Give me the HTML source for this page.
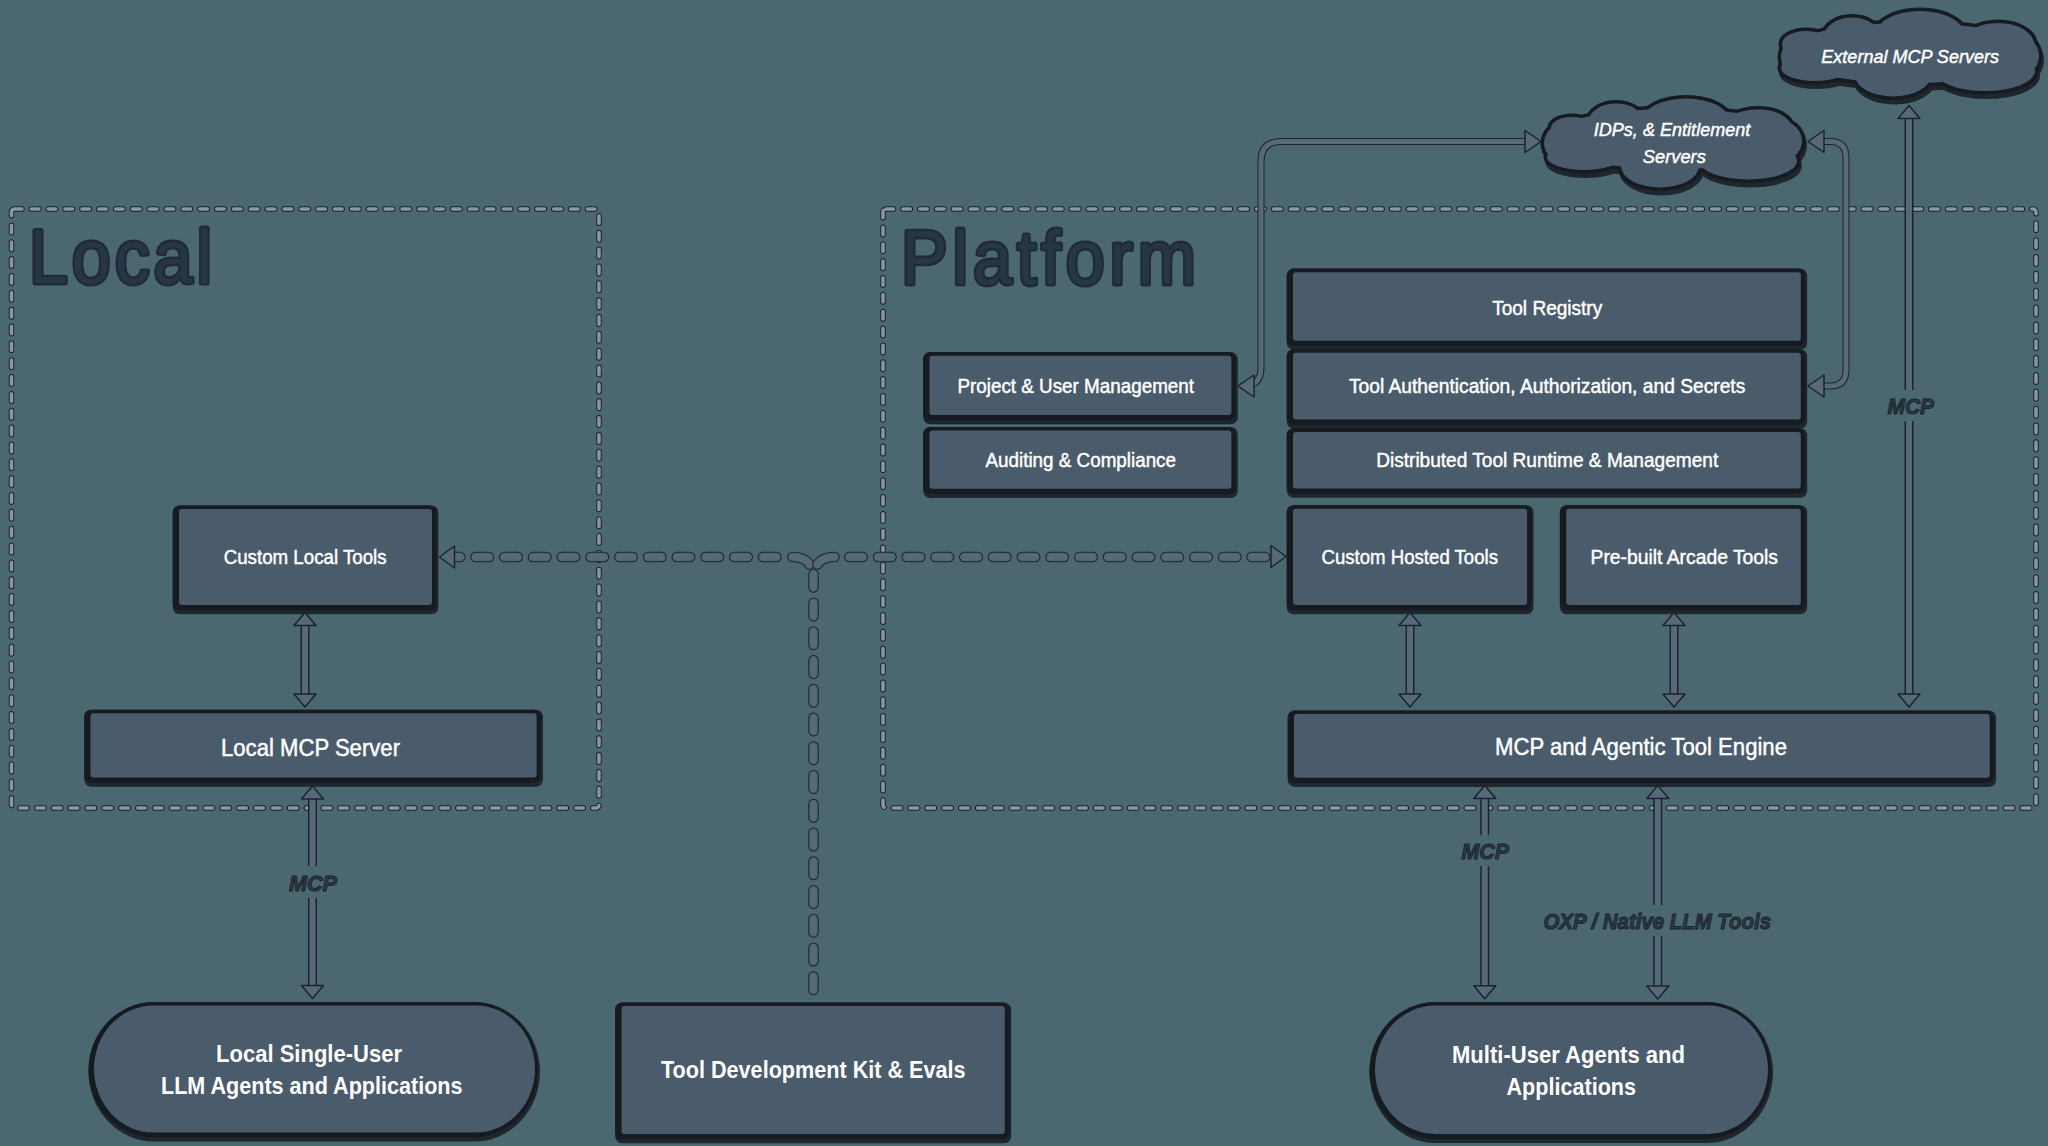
<!DOCTYPE html><html><head><meta charset="utf-8"><title>Arcade architecture</title>
<style>html,body{margin:0;padding:0;background:#4b6870;overflow:hidden}svg{display:block}text{font-family:"Liberation Sans",sans-serif}</style></head><body>
<svg width="2048" height="1146" viewBox="0 0 2048 1146">
<rect width="2048" height="1146" fill="#4b6870"/>
<rect x="11.5" y="209" width="587.5" height="599" rx="3" fill="none" stroke="#1b242c" stroke-width="5.5" stroke-dasharray="7.5 9.35" stroke-linecap="round"/>
<rect x="11.5" y="209" width="587.5" height="599" rx="3" fill="none" stroke="#8a96a3" stroke-width="3.5" stroke-dasharray="7.5 9.35" stroke-linecap="round"/>
<rect x="883" y="209" width="1153" height="599" rx="3" fill="none" stroke="#1b242c" stroke-width="5.5" stroke-dasharray="7.5 9.35" stroke-linecap="round"/>
<rect x="883" y="209" width="1153" height="599" rx="3" fill="none" stroke="#8a96a3" stroke-width="3.5" stroke-dasharray="7.5 9.35" stroke-linecap="round"/>
<text transform="scale(0.92,1)" x="31.52" y="283.2" font-size="76" fill="#273646" stroke="#1f2b37" stroke-width="5" stroke-linejoin="round" paint-order="stroke" textLength="198.91" lengthAdjust="spacing">Local</text>
<text transform="scale(0.92,1)" x="979.35" y="283.7" font-size="76" fill="#273646" stroke="#1f2b37" stroke-width="5" stroke-linejoin="round" paint-order="stroke" textLength="320.65" lengthAdjust="spacing">Platform</text>
<path d="M1527 141.5 L1281 141.5 Q1261 141.5 1261 161.5 L1261 368 Q1261 386 1243 386 L1250 386" fill="none" stroke="#1b242c" stroke-width="7" stroke-linejoin="round"/>
<path d="M1527 141.5 L1281 141.5 Q1261 141.5 1261 161.5 L1261 368 Q1261 386 1243 386 L1250 386" fill="none" stroke="#56687a" stroke-width="5" stroke-linejoin="round"/>
<polygon points="1541,141.5 1525,130.5 1525,152.5" fill="#56687a" stroke="#1b242c" stroke-width="1.5" stroke-linejoin="round"/>
<polygon points="1238,386 1254,375.0 1254,397.0" fill="#56687a" stroke="#1b242c" stroke-width="1.5" stroke-linejoin="round"/>
<path d="M1822 141.5 L1830 141.5 Q1846 141.5 1846 157.5 L1846 370 Q1846 386 1830 386 L1822 386" fill="none" stroke="#1b242c" stroke-width="7" stroke-linejoin="round"/>
<path d="M1822 141.5 L1830 141.5 Q1846 141.5 1846 157.5 L1846 370 Q1846 386 1830 386 L1822 386" fill="none" stroke="#56687a" stroke-width="5" stroke-linejoin="round"/>
<polygon points="1808,141.5 1824,130.5 1824,152.5" fill="#56687a" stroke="#1b242c" stroke-width="1.5" stroke-linejoin="round"/>
<polygon points="1808,386 1824,375.0 1824,397.0" fill="#56687a" stroke="#1b242c" stroke-width="1.5" stroke-linejoin="round"/>
<path d="M452 557 L779 557" fill="none" stroke="#1b242c" stroke-width="10.5" stroke-linecap="round" stroke-dasharray="13.5 15.25" stroke-dashoffset="5.25"/>
<path d="M452 557 L779 557" fill="none" stroke="#4b6870" stroke-width="8.5" stroke-linecap="round" stroke-dasharray="13.5 15.25" stroke-dashoffset="5.25"/>
<path d="M452 557 L779 557" fill="none" stroke="#56687a" stroke-width="6" stroke-linecap="round" stroke-dasharray="13.5 15.25" stroke-dashoffset="5.25"/>
<path d="M840 557 L1272 557" fill="none" stroke="#1b242c" stroke-width="10.5" stroke-linecap="round" stroke-dasharray="13.5 15.25" stroke-dashoffset="19.5"/>
<path d="M840 557 L1272 557" fill="none" stroke="#4b6870" stroke-width="8.5" stroke-linecap="round" stroke-dasharray="13.5 15.25" stroke-dashoffset="19.5"/>
<path d="M840 557 L1272 557" fill="none" stroke="#56687a" stroke-width="6" stroke-linecap="round" stroke-dasharray="13.5 15.25" stroke-dashoffset="19.5"/>
<path d="M813.5 569.5 L813.5 994" fill="none" stroke="#1b242c" stroke-width="10.5" stroke-linecap="round" stroke-dasharray="13.5 15.25" stroke-dashoffset="24.25"/>
<path d="M813.5 569.5 L813.5 994" fill="none" stroke="#4b6870" stroke-width="8.5" stroke-linecap="round" stroke-dasharray="13.5 15.25" stroke-dashoffset="24.25"/>
<path d="M813.5 569.5 L813.5 994" fill="none" stroke="#56687a" stroke-width="6" stroke-linecap="round" stroke-dasharray="13.5 15.25" stroke-dashoffset="24.25"/>
<path d="M792.5 557 Q805 557 809.5 564.5" fill="none" stroke="#1b242c" stroke-width="10.5" stroke-linecap="round" stroke-dasharray="none" stroke-dashoffset="0"/>
<path d="M792.5 557 Q805 557 809.5 564.5" fill="none" stroke="#4b6870" stroke-width="8.5" stroke-linecap="round" stroke-dasharray="none" stroke-dashoffset="0"/>
<path d="M792.5 557 Q805 557 809.5 564.5" fill="none" stroke="#56687a" stroke-width="6" stroke-linecap="round" stroke-dasharray="none" stroke-dashoffset="0"/>
<path d="M834.5 557 Q822 557 817.5 564.5" fill="none" stroke="#1b242c" stroke-width="10.5" stroke-linecap="round" stroke-dasharray="none" stroke-dashoffset="0"/>
<path d="M834.5 557 Q822 557 817.5 564.5" fill="none" stroke="#4b6870" stroke-width="8.5" stroke-linecap="round" stroke-dasharray="none" stroke-dashoffset="0"/>
<path d="M834.5 557 Q822 557 817.5 564.5" fill="none" stroke="#56687a" stroke-width="6" stroke-linecap="round" stroke-dasharray="none" stroke-dashoffset="0"/>
<polygon points="439.5,557 454.5,546.0 454.5,568.0" fill="#56687a" stroke="#1b242c" stroke-width="1.5" stroke-linejoin="round"/>
<polygon points="1286,556.5 1271,545.5 1271,567.5" fill="#56687a" stroke="#1b242c" stroke-width="1.5" stroke-linejoin="round"/>
<rect x="172.7" y="505.4" width="265.7" height="108.8" rx="7" fill="#1e262e"/>
<rect x="172.7" y="505.4" width="263.7" height="104.8" rx="7" fill="#161b21"/>
<rect x="179" y="509" width="253" height="96" rx="3" fill="#4a5b6b"/>
<rect x="84.2" y="709.6999999999999" width="458.8" height="77.00000000000004" rx="7" fill="#1e262e"/>
<rect x="84.2" y="709.6999999999999" width="456.8" height="73.00000000000004" rx="7" fill="#161b21"/>
<rect x="90.5" y="713.3" width="446.1" height="64.20000000000005" rx="3" fill="#4a5b6b"/>
<rect x="923.2" y="352.09999999999997" width="314.6000000000001" height="72.20000000000003" rx="7" fill="#1e262e"/>
<rect x="923.2" y="352.09999999999997" width="312.6000000000001" height="68.20000000000003" rx="7" fill="#161b21"/>
<rect x="929.5" y="355.7" width="301.9000000000001" height="59.400000000000034" rx="3" fill="#4a5b6b"/>
<rect x="923.2" y="426.9" width="314.6000000000001" height="71.10000000000001" rx="7" fill="#1e262e"/>
<rect x="923.2" y="426.9" width="312.6000000000001" height="67.10000000000001" rx="7" fill="#161b21"/>
<rect x="929.5" y="430.5" width="301.9000000000001" height="58.30000000000001" rx="3" fill="#4a5b6b"/>
<rect x="1286.7" y="268.59999999999997" width="520.4999999999999" height="81.3" rx="7" fill="#1e262e"/>
<rect x="1286.7" y="268.59999999999997" width="518.4999999999999" height="77.3" rx="7" fill="#161b21"/>
<rect x="1293" y="272.2" width="507.79999999999995" height="68.5" rx="3" fill="#4a5b6b"/>
<rect x="1286.7" y="349.2" width="520.4999999999999" height="79.49999999999999" rx="7" fill="#1e262e"/>
<rect x="1286.7" y="349.2" width="518.4999999999999" height="75.49999999999999" rx="7" fill="#161b21"/>
<rect x="1293" y="352.8" width="507.79999999999995" height="66.69999999999999" rx="3" fill="#4a5b6b"/>
<rect x="1286.7" y="428.29999999999995" width="520.4999999999999" height="69.50000000000004" rx="7" fill="#1e262e"/>
<rect x="1286.7" y="428.29999999999995" width="518.4999999999999" height="65.50000000000004" rx="7" fill="#161b21"/>
<rect x="1293" y="431.9" width="507.79999999999995" height="56.700000000000045" rx="3" fill="#4a5b6b"/>
<rect x="1286.7" y="505.2" width="246.79999999999993" height="108.99999999999999" rx="7" fill="#1e262e"/>
<rect x="1286.7" y="505.2" width="244.79999999999993" height="104.99999999999999" rx="7" fill="#161b21"/>
<rect x="1293" y="508.8" width="234.0999999999999" height="96.19999999999999" rx="3" fill="#4a5b6b"/>
<rect x="1559.9" y="505.2" width="247.29999999999993" height="108.99999999999999" rx="7" fill="#1e262e"/>
<rect x="1559.9" y="505.2" width="245.29999999999993" height="104.99999999999999" rx="7" fill="#161b21"/>
<rect x="1566.2" y="508.8" width="234.5999999999999" height="96.19999999999999" rx="3" fill="#4a5b6b"/>
<rect x="1287.7" y="710.4" width="708.4" height="76.50000000000004" rx="7" fill="#1e262e"/>
<rect x="1287.7" y="710.4" width="706.4" height="72.50000000000004" rx="7" fill="#161b21"/>
<rect x="1294" y="714" width="695.7" height="63.700000000000045" rx="3" fill="#4a5b6b"/>
<rect x="615.2" y="1002.4" width="395.99999999999994" height="140.79999999999998" rx="7" fill="#1e262e"/>
<rect x="615.2" y="1002.4" width="393.99999999999994" height="136.79999999999998" rx="7" fill="#161b21"/>
<rect x="621.5" y="1006" width="383.29999999999995" height="128" rx="3" fill="#4a5b6b"/>
<rect x="88.5" y="1002.0" width="451.5" height="139.5" rx="65.75" ry="69.75" fill="#1e262e"/>
<rect x="88.5" y="1002.0" width="449.5" height="135.5" rx="65.75" ry="67.75" fill="#161b21"/>
<rect x="94" y="1005.5" width="441" height="127.0" rx="59.5" ry="63.5" fill="#4a5b6b"/>
<rect x="1369.5" y="1002.0" width="403.5" height="141.0" rx="66.5" ry="70.5" fill="#1e262e"/>
<rect x="1369.5" y="1002.0" width="401.5" height="137.0" rx="66.5" ry="68.5" fill="#161b21"/>
<rect x="1375" y="1005.5" width="393" height="128.5" rx="60.25" ry="64.25" fill="#4a5b6b"/>
<rect x="300.5" y="624.5" width="9" height="70.5" fill="#1b242c"/>
<rect x="302.0" y="624.5" width="6" height="70.5" fill="#56687a"/>
<polygon points="305,612.5 316.0,625.5 294.0,625.5" fill="#56687a" stroke="#1b242c" stroke-width="1.5" stroke-linejoin="round"/>
<polygon points="305,707 316.0,694 294.0,694" fill="#56687a" stroke="#1b242c" stroke-width="1.5" stroke-linejoin="round"/>
<rect x="308.0" y="798" width="9" height="68" fill="#1b242c"/>
<rect x="309.5" y="798" width="6" height="68" fill="#56687a"/>
<rect x="308.0" y="898" width="9" height="88.5" fill="#1b242c"/>
<rect x="309.5" y="898" width="6" height="88.5" fill="#56687a"/>
<polygon points="312.5,786 323.5,799 301.5,799" fill="#56687a" stroke="#1b242c" stroke-width="1.5" stroke-linejoin="round"/>
<polygon points="312.5,998.5 323.5,985.5 301.5,985.5" fill="#56687a" stroke="#1b242c" stroke-width="1.5" stroke-linejoin="round"/>
<rect x="1405.5" y="624.5" width="9" height="70.5" fill="#1b242c"/>
<rect x="1407.0" y="624.5" width="6" height="70.5" fill="#56687a"/>
<polygon points="1410,612.5 1421.0,625.5 1399.0,625.5" fill="#56687a" stroke="#1b242c" stroke-width="1.5" stroke-linejoin="round"/>
<polygon points="1410,707 1421.0,694 1399.0,694" fill="#56687a" stroke="#1b242c" stroke-width="1.5" stroke-linejoin="round"/>
<rect x="1669.5" y="624.5" width="9" height="70.5" fill="#1b242c"/>
<rect x="1671.0" y="624.5" width="6" height="70.5" fill="#56687a"/>
<polygon points="1674,612.5 1685.0,625.5 1663.0,625.5" fill="#56687a" stroke="#1b242c" stroke-width="1.5" stroke-linejoin="round"/>
<polygon points="1674,707 1685.0,694 1663.0,694" fill="#56687a" stroke="#1b242c" stroke-width="1.5" stroke-linejoin="round"/>
<rect x="1904.5" y="117.5" width="9" height="272.5" fill="#1b242c"/>
<rect x="1906.0" y="117.5" width="6" height="272.5" fill="#56687a"/>
<rect x="1904.5" y="421" width="9" height="274" fill="#1b242c"/>
<rect x="1906.0" y="421" width="6" height="274" fill="#56687a"/>
<polygon points="1909,105.5 1920.0,118.5 1898.0,118.5" fill="#56687a" stroke="#1b242c" stroke-width="1.5" stroke-linejoin="round"/>
<polygon points="1909,707 1920.0,694 1898.0,694" fill="#56687a" stroke="#1b242c" stroke-width="1.5" stroke-linejoin="round"/>
<rect x="1480.25" y="797.5" width="9" height="37.5" fill="#1b242c"/>
<rect x="1481.75" y="797.5" width="6" height="37.5" fill="#56687a"/>
<rect x="1480.25" y="866" width="9" height="120.75" fill="#1b242c"/>
<rect x="1481.75" y="866" width="6" height="120.75" fill="#56687a"/>
<polygon points="1484.75,785.5 1495.75,798.5 1473.75,798.5" fill="#56687a" stroke="#1b242c" stroke-width="1.5" stroke-linejoin="round"/>
<polygon points="1484.75,998.75 1495.75,985.75 1473.75,985.75" fill="#56687a" stroke="#1b242c" stroke-width="1.5" stroke-linejoin="round"/>
<rect x="1653.25" y="797.5" width="9" height="107.5" fill="#1b242c"/>
<rect x="1654.75" y="797.5" width="6" height="107.5" fill="#56687a"/>
<rect x="1653.25" y="936" width="9" height="51" fill="#1b242c"/>
<rect x="1654.75" y="936" width="6" height="51" fill="#56687a"/>
<polygon points="1657.75,785.5 1668.75,798.5 1646.75,798.5" fill="#56687a" stroke="#1b242c" stroke-width="1.5" stroke-linejoin="round"/>
<polygon points="1657.75,999 1668.75,986 1646.75,986" fill="#56687a" stroke="#1b242c" stroke-width="1.5" stroke-linejoin="round"/>
<text x="223.7" y="564.4" font-size="20" font-weight="normal" font-style="normal" fill="#ffffff" textLength="162.90000000000003" lengthAdjust="spacingAndGlyphs" stroke="#ffffff" stroke-width="0.45">Custom Local Tools</text>
<text x="221" y="755.5" font-size="23.5" font-weight="normal" font-style="normal" fill="#ffffff" textLength="179" lengthAdjust="spacingAndGlyphs" stroke="#ffffff" stroke-width="0.45">Local MCP Server</text>
<text x="957.5" y="393" font-size="20" font-weight="normal" font-style="normal" fill="#ffffff" textLength="236.5" lengthAdjust="spacingAndGlyphs" stroke="#ffffff" stroke-width="0.45">Project &amp; User Management</text>
<text x="985.5" y="467" font-size="20" font-weight="normal" font-style="normal" fill="#ffffff" textLength="190.5" lengthAdjust="spacingAndGlyphs" stroke="#ffffff" stroke-width="0.45">Auditing &amp; Compliance</text>
<text x="1492.2" y="314.6" font-size="20" font-weight="normal" font-style="normal" fill="#ffffff" textLength="110.0" lengthAdjust="spacingAndGlyphs" stroke="#ffffff" stroke-width="0.45">Tool Registry</text>
<text x="1349" y="393.1" font-size="20" font-weight="normal" font-style="normal" fill="#ffffff" textLength="396.29999999999995" lengthAdjust="spacingAndGlyphs" stroke="#ffffff" stroke-width="0.45">Tool Authentication, Authorization, and Secrets</text>
<text x="1376.2" y="467" font-size="20" font-weight="normal" font-style="normal" fill="#ffffff" textLength="342.0" lengthAdjust="spacingAndGlyphs" stroke="#ffffff" stroke-width="0.45">Distributed Tool Runtime &amp; Management</text>
<text x="1321.5" y="564" font-size="20" font-weight="normal" font-style="normal" fill="#ffffff" textLength="176.5" lengthAdjust="spacingAndGlyphs" stroke="#ffffff" stroke-width="0.45">Custom Hosted Tools</text>
<text x="1590.5" y="564" font-size="20" font-weight="normal" font-style="normal" fill="#ffffff" textLength="187.5" lengthAdjust="spacingAndGlyphs" stroke="#ffffff" stroke-width="0.45">Pre-built Arcade Tools</text>
<text x="1495" y="755" font-size="23.5" font-weight="normal" font-style="normal" fill="#ffffff" textLength="292" lengthAdjust="spacingAndGlyphs" stroke="#ffffff" stroke-width="0.45">MCP and Agentic Tool Engine</text>
<text x="661" y="1077.5" font-size="24" font-weight="bold" font-style="normal" fill="#ffffff" textLength="304.5" lengthAdjust="spacingAndGlyphs" >Tool Development Kit &amp; Evals</text>
<text x="216" y="1062" font-size="24" font-weight="bold" font-style="normal" fill="#ffffff" textLength="186" lengthAdjust="spacingAndGlyphs" >Local Single-User</text>
<text x="161" y="1093.5" font-size="24" font-weight="bold" font-style="normal" fill="#ffffff" textLength="301.5" lengthAdjust="spacingAndGlyphs" >LLM Agents and Applications</text>
<text x="1452" y="1062.5" font-size="24" font-weight="bold" font-style="normal" fill="#ffffff" textLength="233" lengthAdjust="spacingAndGlyphs" >Multi-User Agents and</text>
<text x="1506.5" y="1094.5" font-size="24" font-weight="bold" font-style="normal" fill="#ffffff" textLength="129.5" lengthAdjust="spacingAndGlyphs" >Applications</text>
<g fill="#1e262e" stroke="#1e262e" stroke-width="7" transform="translate(1.5,4.5)"><ellipse cx="1910" cy="53" rx="127" ry="30"/><ellipse cx="1805" cy="57" rx="24" ry="22"/><ellipse cx="2015" cy="56" rx="24" ry="22"/><ellipse cx="1806" cy="44" rx="24" ry="13"/><ellipse cx="1852" cy="37" rx="28" ry="19.5"/><ellipse cx="1920" cy="34" rx="44" ry="23"/><ellipse cx="1998" cy="44" rx="36" ry="21"/><ellipse cx="1815" cy="68" rx="34" ry="13"/><ellipse cx="1893" cy="75" rx="38" ry="21.5"/><ellipse cx="1985" cy="71" rx="50" ry="20"/></g>
<g fill="#161b21" stroke="#161b21" stroke-width="7"><ellipse cx="1910" cy="53" rx="127" ry="30"/><ellipse cx="1805" cy="57" rx="24" ry="22"/><ellipse cx="2015" cy="56" rx="24" ry="22"/><ellipse cx="1806" cy="44" rx="24" ry="13"/><ellipse cx="1852" cy="37" rx="28" ry="19.5"/><ellipse cx="1920" cy="34" rx="44" ry="23"/><ellipse cx="1998" cy="44" rx="36" ry="21"/><ellipse cx="1815" cy="68" rx="34" ry="13"/><ellipse cx="1893" cy="75" rx="38" ry="21.5"/><ellipse cx="1985" cy="71" rx="50" ry="20"/></g>
<g fill="#4a5b6b"><ellipse cx="1910" cy="53" rx="127" ry="30"/><ellipse cx="1805" cy="57" rx="24" ry="22"/><ellipse cx="2015" cy="56" rx="24" ry="22"/><ellipse cx="1806" cy="44" rx="24" ry="13"/><ellipse cx="1852" cy="37" rx="28" ry="19.5"/><ellipse cx="1920" cy="34" rx="44" ry="23"/><ellipse cx="1998" cy="44" rx="36" ry="21"/><ellipse cx="1815" cy="68" rx="34" ry="13"/><ellipse cx="1893" cy="75" rx="38" ry="21.5"/><ellipse cx="1985" cy="71" rx="50" ry="20"/></g>
<g fill="#1e262e" stroke="#1e262e" stroke-width="7" transform="translate(1.5,4.5)"><ellipse cx="1673" cy="139" rx="127" ry="30"/><ellipse cx="1568" cy="143" rx="24" ry="21"/><ellipse cx="1778" cy="141" rx="24" ry="21"/><ellipse cx="1572" cy="128" rx="21" ry="11"/><ellipse cx="1616" cy="121" rx="27" ry="17.5"/><ellipse cx="1686" cy="120" rx="43" ry="21.5"/><ellipse cx="1758" cy="127" rx="33" ry="17.5"/><ellipse cx="1584" cy="157" rx="37" ry="13"/><ellipse cx="1660" cy="166" rx="39" ry="21.5"/><ellipse cx="1748" cy="161" rx="49" ry="18.5"/></g>
<g fill="#161b21" stroke="#161b21" stroke-width="7"><ellipse cx="1673" cy="139" rx="127" ry="30"/><ellipse cx="1568" cy="143" rx="24" ry="21"/><ellipse cx="1778" cy="141" rx="24" ry="21"/><ellipse cx="1572" cy="128" rx="21" ry="11"/><ellipse cx="1616" cy="121" rx="27" ry="17.5"/><ellipse cx="1686" cy="120" rx="43" ry="21.5"/><ellipse cx="1758" cy="127" rx="33" ry="17.5"/><ellipse cx="1584" cy="157" rx="37" ry="13"/><ellipse cx="1660" cy="166" rx="39" ry="21.5"/><ellipse cx="1748" cy="161" rx="49" ry="18.5"/></g>
<g fill="#4a5b6b"><ellipse cx="1673" cy="139" rx="127" ry="30"/><ellipse cx="1568" cy="143" rx="24" ry="21"/><ellipse cx="1778" cy="141" rx="24" ry="21"/><ellipse cx="1572" cy="128" rx="21" ry="11"/><ellipse cx="1616" cy="121" rx="27" ry="17.5"/><ellipse cx="1686" cy="120" rx="43" ry="21.5"/><ellipse cx="1758" cy="127" rx="33" ry="17.5"/><ellipse cx="1584" cy="157" rx="37" ry="13"/><ellipse cx="1660" cy="166" rx="39" ry="21.5"/><ellipse cx="1748" cy="161" rx="49" ry="18.5"/></g>
<text x="1821.3" y="62.9" font-size="19" font-weight="normal" font-style="italic" fill="#ffffff" textLength="177.70000000000005" lengthAdjust="spacingAndGlyphs" stroke="#ffffff" stroke-width="0.45">External MCP Servers</text>
<text x="1593.7" y="136" font-size="19" font-weight="normal" font-style="italic" fill="#ffffff" textLength="156.70000000000005" lengthAdjust="spacingAndGlyphs" stroke="#ffffff" stroke-width="0.45">IDPs, &amp; Entitlement</text>
<text x="1642.8" y="162.5" font-size="19" font-weight="normal" font-style="italic" fill="#ffffff" textLength="63.0" lengthAdjust="spacingAndGlyphs" stroke="#ffffff" stroke-width="0.45">Servers</text>
<text x="289" y="891" font-size="22.5" font-weight="bold" font-style="italic" fill="#2a3a48" stroke="#1b242c" stroke-width="1" textLength="48" lengthAdjust="spacingAndGlyphs">MCP</text>
<text x="1887.5" y="413.8" font-size="22.5" font-weight="bold" font-style="italic" fill="#2a3a48" stroke="#1b242c" stroke-width="1" textLength="46.5" lengthAdjust="spacingAndGlyphs">MCP</text>
<text x="1461.5" y="859" font-size="22.5" font-weight="bold" font-style="italic" fill="#2a3a48" stroke="#1b242c" stroke-width="1" textLength="47.5" lengthAdjust="spacingAndGlyphs">MCP</text>
<text x="1543.5" y="929" font-size="22.5" font-weight="bold" font-style="italic" fill="#2a3a48" stroke="#1b242c" stroke-width="1" textLength="227.5" lengthAdjust="spacingAndGlyphs">OXP / Native LLM Tools</text>
</svg></body></html>
